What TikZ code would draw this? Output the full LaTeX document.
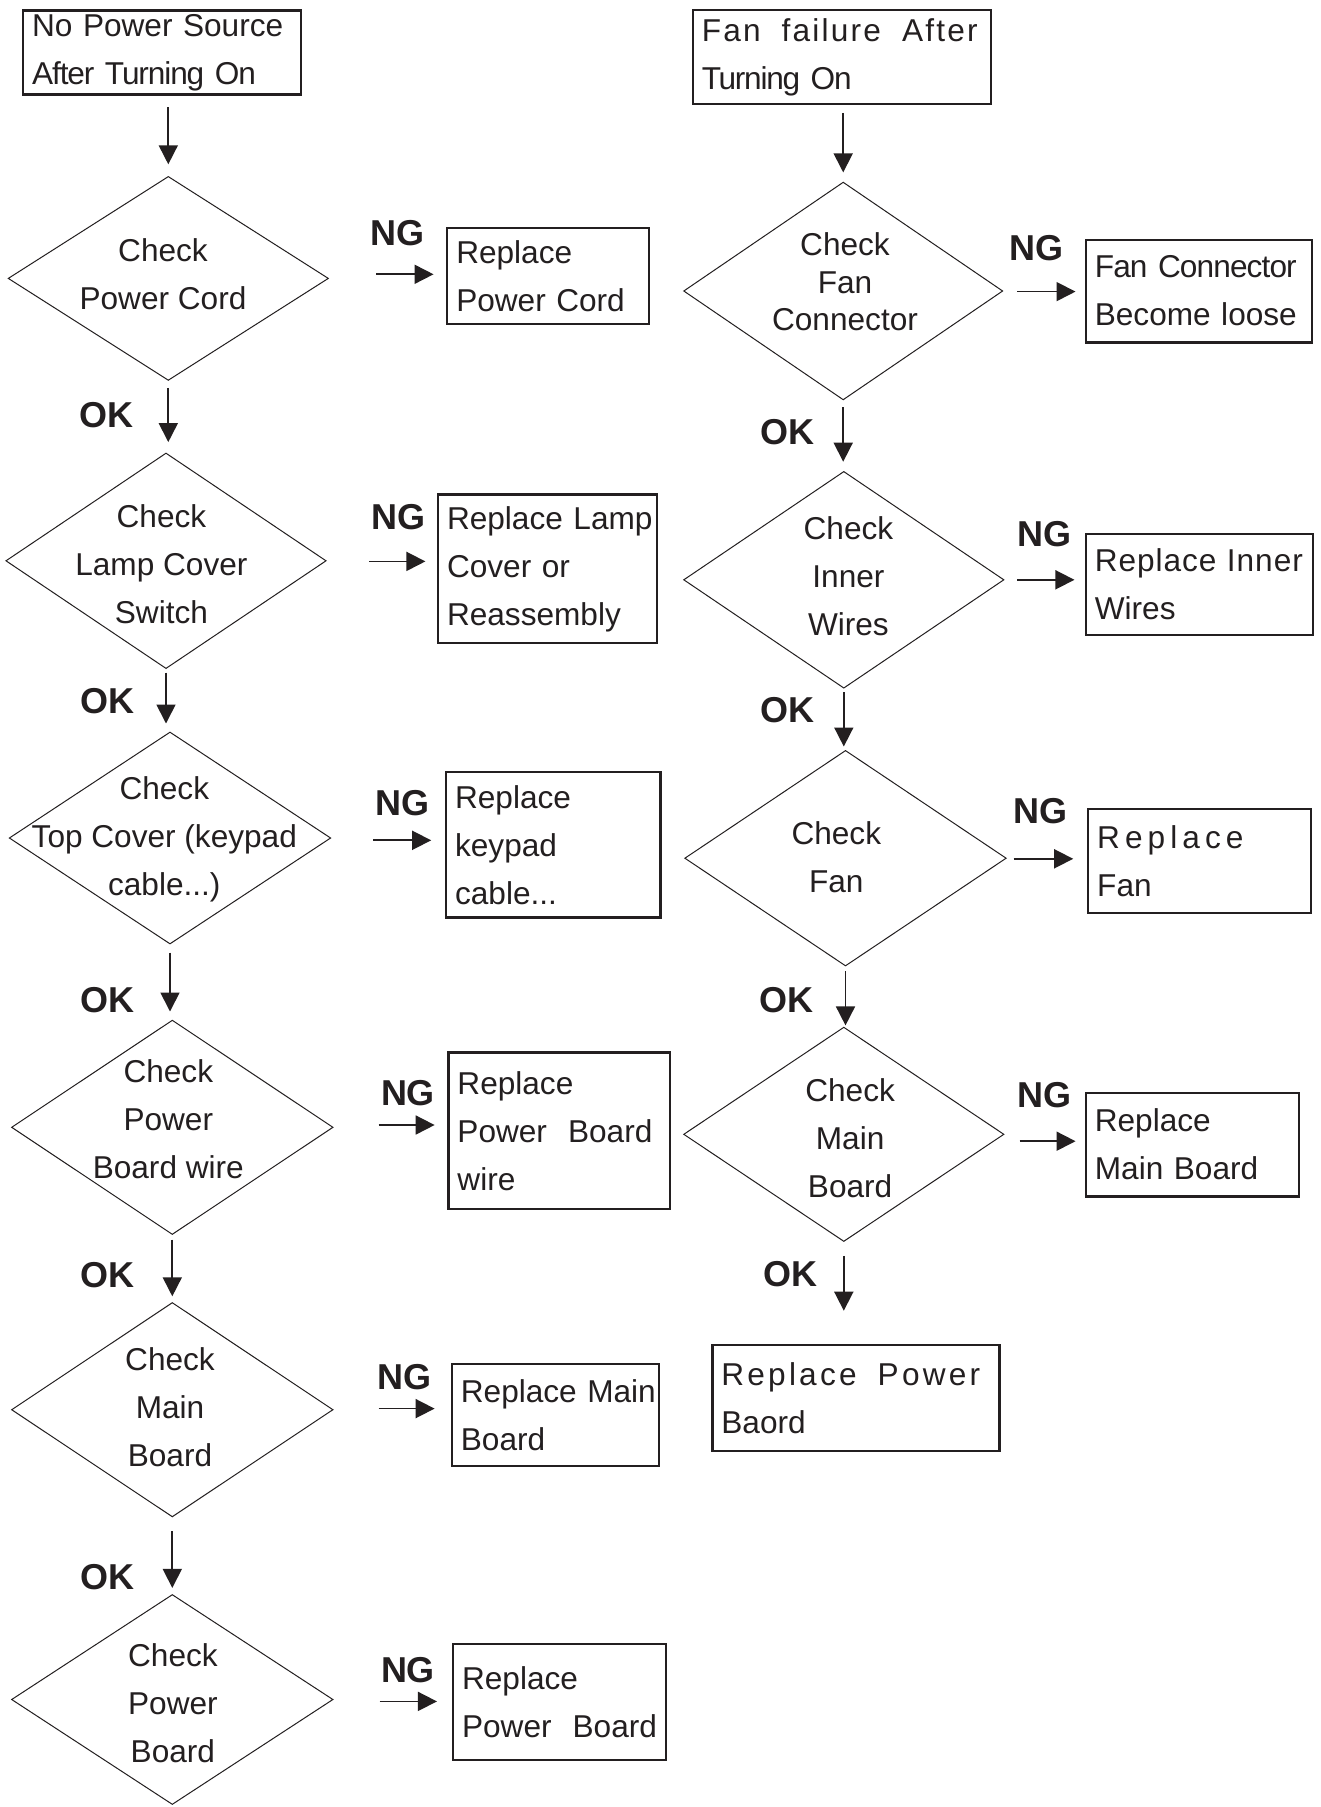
\documentclass[tikz,border=0pt]{standalone}
\usepackage{fontspec}
\setmainfont{Liberation Sans}
\usetikzlibrary{shapes.geometric,arrows.meta,calc}
\definecolor{ink}{HTML}{231F20}
\newcommand\mainf{\fontsize{31.6}{48}\selectfont}
\newcommand\tightf{\fontsize{31.6}{37.5}\selectfont}
\newcommand\lblf{\fontsize{36}{36}\selectfont\bfseries}
\newcommand\lsp[2]{{\addfontfeature{LetterSpace=#1}#2}}
\begin{document}
\begin{tikzpicture}[x=1pt,y=-1pt,
  box/.style={draw=ink, line width=2.2pt, inner xsep=9pt, inner ysep=0pt, align=left, font=\mainf, text=ink},
  dia/.style={diamond, draw=ink, line width=1pt, inner sep=0pt},
  dtext/.style={align=center, font=\mainf, inner sep=0pt, text=ink},
  lbl/.style={font=\lblf, inner sep=0pt, text=ink},
  arr/.style={draw=ink, line width=1.7pt, -{Triangle[length=19pt,width=19pt]}}]

\path[fill=white, use as bounding box] (0,0) rectangle (1321,1807);

% ---------- left column ----------
\node[box, minimum height=84.1pt, text width=259.8pt] (A1) at (162,52.5)
  {No~Power~Source\\\lsp{-3.5}{After~Turning~On}};

\node[dia, minimum width=320.4pt, minimum height=204pt] (D1) at (168.3,278.4) {};
\node[dtext] (D1t) at (163,274.3) {Check\\Power Cord};
\node[box, minimum height=95.7pt, text width=183.7pt] (R1) at (548.1,276.1) {Replace\\Power~Cord};

\node[dia, minimum width=320.4pt, minimum height=215.6pt] (D2) at (166,560.8) {};
\node[dtext] (D2t) at (161.4,563.7) {Check\\Lamp Cover\\Switch};
\node[box, minimum height=148.7pt, text width=201pt] (R2) at (547.5,568.9) {Replace~Lamp\\Cover~or\\Reassembly};

\node[dia, minimum width=321.6pt, minimum height=212pt] (D3) at (170,838) {};
\node[dtext] (D3t) at (164.3,839.2) {Check\\Top Cover (keypad\\cable...)};
\node[box, minimum height=145.2pt, text width=196.4pt] (R3) at (553.3,844.9) {Replace\\keypad\\cable...};

\node[dia, minimum width=321.6pt, minimum height=214.4pt] (D4) at (172.3,1127.3) {};
\node[dtext] (D4t) at (168.3,1119.3) {Check\\Power\\Board wire};
\node[box, minimum height=156.8pt, text width=203.3pt] (R4) at (559.1,1130.8) {Replace\\Power~~Board\\wire};

\node[dia, minimum width=321.6pt, minimum height=214.4pt] (D5) at (172.3,1409.7) {};
\node[dtext] (D5t) at (170,1406.9) {Check\\Main\\Board};
\node[box, minimum height=102.6pt, text width=189.4pt] (R5) at (555.6,1414.9) {Replace~Main\\Board};

\node[dia, minimum width=321.6pt, minimum height=210pt] (D6) at (172.3,1699.5) {};
\node[dtext] (D6t) at (172.9,1703.1) {Check\\Power\\Board};
\node[box, minimum height=116.5pt, text width=195.3pt] (R6) at (559.7,1702) {Replace\\Power~~Board};

% ---------- right column ----------
\node[box, minimum height=93.3pt, text width=280.5pt] (B1) at (842,57)
  {\lsp{7}{Fan~~failure~~After}\\\lsp{-4}{Turning~On}};

\node[dia, minimum width=319.2pt, minimum height=217.8pt] (E1) at (843.2,291) {};
\node[dtext, font=\tightf] (E1t) at (845,281.8) {Check\\Fan\\Connector};
\node[box, minimum height=102.6pt, text width=208pt] (S1) at (1198.8,291.1) {\lsp{-2.8}{Fan~Connector}\\Become~loose};

\node[dia, minimum width=320.4pt, minimum height=216.8pt] (E2) at (843.8,579.8) {};
\node[dtext] (E2t) at (848.4,575.8) {Check\\Inner\\Wires};
\node[box, minimum height=101.4pt, text width=209.1pt] (S2) at (1199.4,584.4) {\lsp{3}{Replace~Inner}\\Wires};

\node[dia, minimum width=321.6pt, minimum height=215.6pt] (E3) at (845.5,858.2) {};
\node[dtext] (E3t) at (836.3,857.6) {Check\\Fan};
\node[box, minimum height=103.7pt, text width=204.4pt] (S3) at (1199.4,861) {\lsp{16}{Replace}\\Fan};

\node[dia, minimum width=320.4pt, minimum height=214.4pt] (E4) at (843.8,1134.3) {};
\node[dtext] (E4t) at (850.1,1137.7) {Check\\Main\\Board};
\node[box, minimum height=103.7pt, text width=195.3pt] (S4) at (1192.5,1144.6) {Replace\\Main~Board};

\node[box, minimum height=106pt, text width=269pt] (S5) at (855.9,1398.2) {\lsp{10.2}{Replace~~Power}\\Baord};

% ---------- labels ----------
\node[lbl] (ng1) at (397.7,232.8) {NG};
\node[lbl] (ng2) at (398.8,517.6) {NG};
\node[lbl] (ng3) at (402.3,803.4) {NG};
\node[lbl] (ng4) at (408,1092.8) {NG};
\node[lbl] (ng5) at (404.6,1377.5) {NG};
\node[lbl] (ng6) at (408,1670.3) {NG};
\node[lbl] (ngr1) at (1036.3,247.8) {NG};
\node[lbl] (ngr2) at (1044.4,533.7) {NG};
\node[lbl] (ngr3) at (1040.9,811.5) {NG};
\node[lbl] (ngr4) at (1044.4,1095) {NG};
\node[lbl] (ok1) at (106,415) {OK};
\node[lbl] (ok2) at (107.2,700.8) {OK};
\node[lbl] (ok3) at (107.2,1000.5) {OK};
\node[lbl] (ok4) at (107.2,1274.9) {OK};
\node[lbl] (ok5) at (107.2,1576.9) {OK};
\node[lbl] (okr1) at (787.3,432.3) {OK};
\node[lbl] (okr2) at (787.3,710) {OK};
\node[lbl] (okr3) at (786.1,1000.5) {OK};
\node[lbl] (okr4) at (790.8,1273.7) {OK};

% ---------- vertical arrows ----------
\draw[arr, shorten <=11.5pt, shorten >=11.6pt] (A1.south -| D1.north) -- (D1.north);
\draw[arr, shorten <=6.9pt, shorten >=10.4pt] (D1.south) -- (D1.south |- D2.north);
\draw[arr, shorten <=3.4pt, shorten >=8pt] (D2.south) -- (D2.south |- D3.north);
\draw[arr, shorten <=8pt, shorten >=8.1pt] (D3.south) -- (D3.south |- D4.north);
\draw[arr, shorten <=4.5pt, shorten >=5.7pt] (D4.south) -- (D5.north);
\draw[arr, shorten <=13.9pt, shorten >=6.1pt] (D5.south) -- (D6.north);

\draw[arr, shorten <=8.1pt, shorten >=9.2pt] (B1.south -| E1.north) -- (E1.north);
\draw[arr, shorten <=7pt, shorten >=9.2pt] (E1.south) -- (E1.south |- E2.north);
\draw[arr, shorten <=3.4pt, shorten >=3.4pt] (E2.south) -- (E2.south |- E3.north);
\draw[arr, shorten <=4.6pt, shorten >=1.2pt] (E3.south) -- (E3.south |- E4.north);
\draw[arr, shorten <=13.8pt, shorten >=33.4pt] (E4.south) -- (E4.south |- S5.north);

% ---------- horizontal arrows ----------
\coordinate (h1) at ($(D1.east)+(0,-4.1)$);
\coordinate (h2) at ($(D2.east)+(0,0.6)$);
\coordinate (h3) at ($(D3.east)+(0,2.3)$);
\coordinate (h4) at ($(D4.east)+(0,-2.3)$);
\coordinate (h5) at ($(D5.east)+(0,-1.1)$);
\coordinate (h6) at ($(D6.east)+(0,1.9)$);
\coordinate (g1) at ($(E1.east)+(0,0.6)$);
\coordinate (g2) at (E2.east);
\coordinate (g3) at ($(E3.east)+(0,0.6)$);
\coordinate (g4) at ($(E4.east)+(0,6.9)$);
\draw[arr, shorten <=47.3pt, shorten >=12.6pt] (h1) -- (h1 -| R1.west);
\draw[arr, shorten <=42.7pt, shorten >=11.5pt] (h2) -- (h2 -| R2.west);
\draw[arr, shorten <=41.7pt, shorten >=13.8pt] (h3) -- (h3 -| R3.west);
\draw[arr, shorten <=45pt, shorten >=12.7pt] (h4) -- (h4 -| R4.west);
\draw[arr, shorten <=45pt, shorten >=16.2pt] (h5) -- (h5 -| R5.west);
\draw[arr, shorten <=46.1pt, shorten >=15pt] (h6) -- (h6 -| R6.west);
\draw[arr, shorten <=13.9pt, shorten >=9.2pt] (g1) -- (g1 -| S1.west);
\draw[arr, shorten <=12.7pt, shorten >=10.3pt] (g2) -- (g2 -| S2.west);
\draw[arr, shorten <=6.9pt, shorten >=13.9pt] (g3) -- (g3 -| S3.west);
\draw[arr, shorten <=15pt, shorten >=9.2pt] (g4) -- (g4 -| S4.west);
\end{tikzpicture}
\end{document}
